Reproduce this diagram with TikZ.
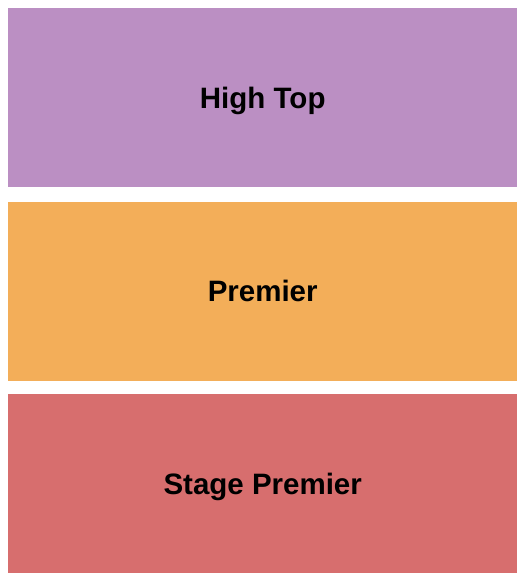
\documentclass[tikz,border=0pt]{standalone}
\usepackage{fontspec}
\setmainfont{Liberation Sans}
\usetikzlibrary{positioning}
\definecolor{hightopc}{RGB}{187,143,195}
\definecolor{premierc}{RGB}{243,174,89}
\definecolor{stagec}{RGB}{215,110,110}
\tikzset{
  section/.style={
    draw           = none,
    inner sep      = 0pt,
    minimum width  = 509pt,
    minimum height = 179pt,
    text depth     = 0pt,
    font           = \fontsize{29.5}{34}\selectfont\bfseries,
    align          = center}
}

\begin{document}
\begin{tikzpicture}

\useasboundingbox (0,0) rectangle (525pt,-580pt);

\node[section, fill=hightopc, anchor=north west] (hightop) at (8pt,-8pt)
      {High Top};
\node[section, fill=premierc, below = 14pt of hightop] (premier)
      {Premier};
\node[section, fill=stagec, below = 13pt of premier] (stage)
      {Stage Premier};

\end{tikzpicture}
\end{document}
